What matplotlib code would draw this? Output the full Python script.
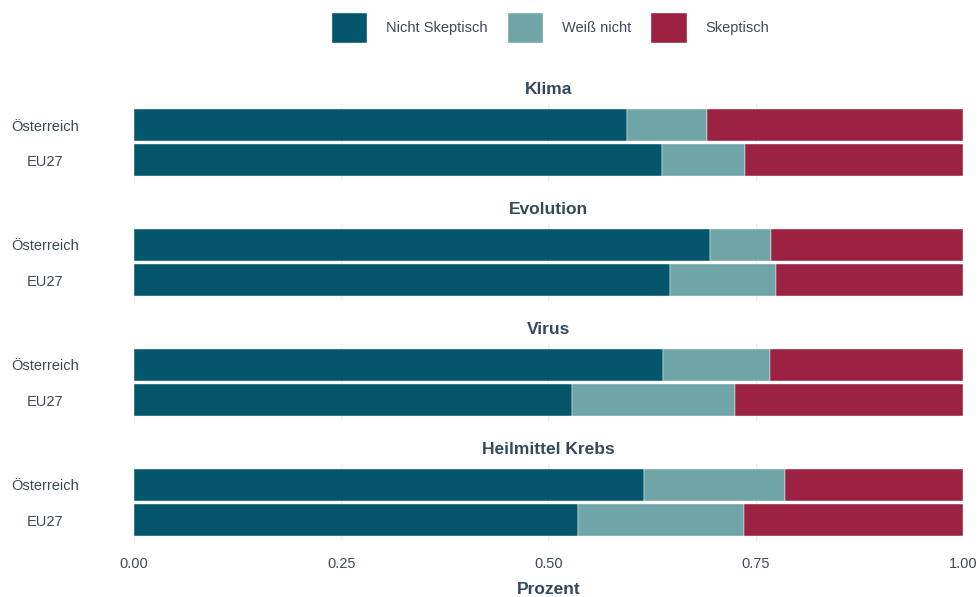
import matplotlib
matplotlib.use("Agg")
import matplotlib.pyplot as plt
from matplotlib.patches import Patch
import numpy as np

plt.rcParams['font.family'] = ['Liberation Sans', 'DejaVu Sans']

topics = ["Klima", "Evolution", "Virus", "Heilmittel Krebs"]
regions = ["Österreich", "EU27"]
categories = ["Nicht Skeptisch", "Weiß nicht", "Skeptisch"]
# shares per topic: [Österreich, EU27]
nicht_skeptisch = [[0.595, 0.637], [0.695, 0.647], [0.638, 0.528], [0.615, 0.536]]
weiss_nicht = [[0.096, 0.100], [0.073, 0.127], [0.129, 0.197], [0.170, 0.200]]
skeptisch = [[0.309, 0.263], [0.232, 0.226], [0.233, 0.275], [0.215, 0.264]]
xticks = [0.0, 0.25, 0.5, 0.75, 1.0]
xticklabels = ["0.00", "0.25", "0.50", "0.75", "1.00"]

colors = ["#03566B", "#6FA5A7", "#9C2242"]
text_col = "#3D4A5A"
title_col = "#34495E"

W, H = 979, 597
fig = plt.figure(figsize=(W / 100, H / 100), dpi=100)

left, right = 134, 963
panel_tops = [104, 224, 344, 464]
panel_h = 77

for i, topic in enumerate(topics):
    top = panel_tops[i]
    ax = fig.add_axes([left / W, 1 - (top + panel_h) / H, (right - left) / W, panel_h / H])
    series = [nicht_skeptisch[i], weiss_nicht[i], skeptisch[i]]
    ypos = np.arange(len(regions))
    cum = np.zeros(len(regions))
    for s, c in zip(series, colors):
        ax.barh(ypos, s, left=cum, height=0.9, color=c, edgecolor="white", linewidth=0.3, zorder=3)
        cum += np.array(s)
    ax.set_ylim(1.6, -0.6)
    ax.set_xlim(0, 1)
    ax.set_yticks(ypos)
    ax.set_yticklabels(regions, fontsize=10.5, color=text_col, ha="center")
    ax.set_xticks(xticks)
    ax.grid(axis="x", color="#EBEBEB", linewidth=0.8, zorder=0)
    ax.tick_params(axis="x", length=0, pad=8)
    ax.tick_params(axis="y", length=0, pad=64)
    for sp in ax.spines.values():
        sp.set_visible(False)
    ax.set_title(topic, fontsize=12.5, fontweight="bold", color=title_col, pad=7.5)
    if i == len(topics) - 1:
        ax.set_xticklabels(xticklabels, fontsize=10.5, color=text_col)
        ax.tick_params(axis="x", pad=11.5)
        ax.set_xlabel("Prozent", fontsize=12.5, fontweight="bold", color=title_col, labelpad=8.2)
    else:
        ax.set_xticklabels([])

handles = [Patch(facecolor=c, edgecolor="white", label=l) for c, l in zip(colors, categories)]
leg = fig.legend(handles=handles, loc="center", bbox_to_anchor=(550 / W, 1 - 27.5 / H), ncol=3,
                 frameon=False, fontsize=10.5, handlelength=2.5, handleheight=2.9,
                 handletextpad=1.3, columnspacing=1.3)
for t in leg.get_texts():
    t.set_color(text_col)

fig.savefig("out.png", dpi=100, facecolor="white")
